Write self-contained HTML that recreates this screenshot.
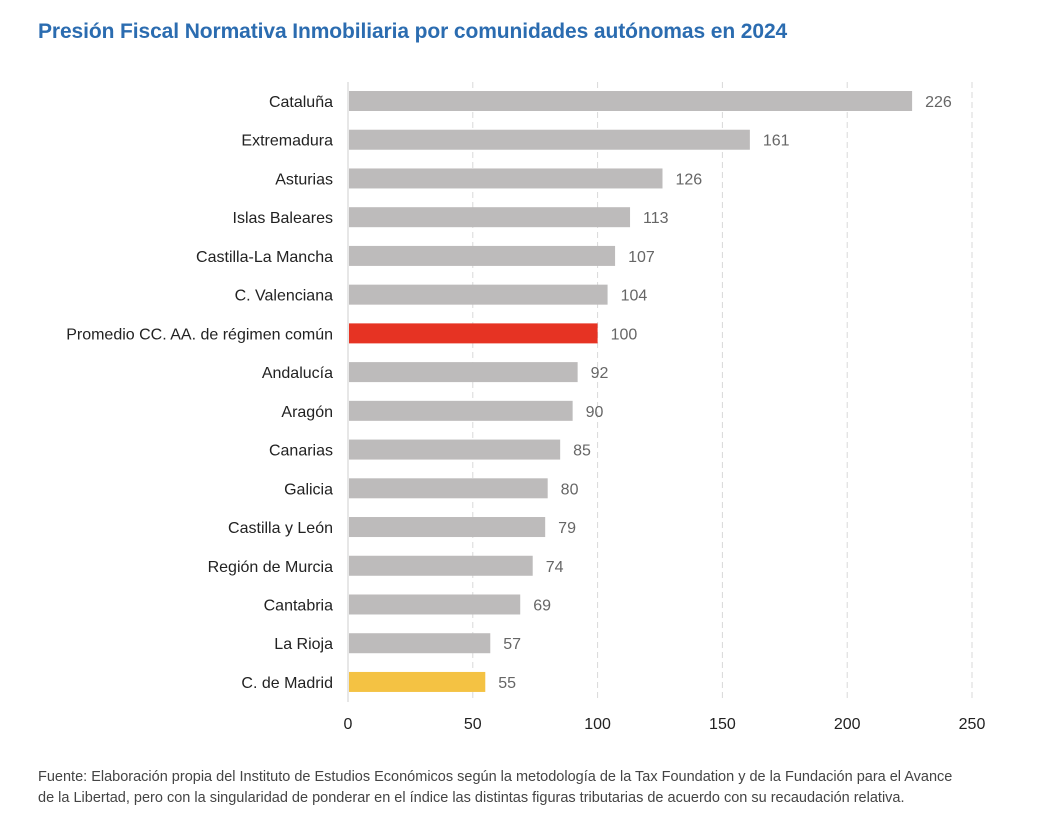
<!DOCTYPE html>
<html><head><meta charset="utf-8"><style>
body{margin:0;background:#fff;width:1041px;height:839px;overflow:hidden;font-family:"Liberation Sans","DejaVu Sans",sans-serif;}
#title{position:absolute;left:38px;top:20px;font-size:21px;font-weight:bold;color:#2b6cb0;letter-spacing:-0.1px;}
#note{position:absolute;left:38px;top:767px;font-size:14.5px;color:#444;line-height:21px;width:960px;}
svg{position:absolute;left:0;top:0;}
</style></head><body>
<div id="title">Presión Fiscal Normativa Inmobiliaria por comunidades autónomas en 2024</div>
<svg id="chart" width="1041" height="839"></svg>
<div id="note">Fuente: Elaboración propia del Instituto de Estudios Económicos según la metodología de la Tax Foundation y de la Fundación para el Avance<br>de la Libertad, pero con la singularidad de ponderar en el índice las distintas figuras tributarias de acuerdo con su recaudación relativa.</div>
<script>
const categories=["Cataluña","Extremadura","Asturias","Islas Baleares","Castilla-La Mancha","C. Valenciana","Promedio CC. AA. de régimen común","Andalucía","Aragón","Canarias","Galicia","Castilla y León","Región de Murcia","Cantabria","La Rioja","C. de Madrid"];
const values=[226,161,126,113,107,104,100,92,90,85,80,79,74,69,57,55];
const ticks=[0,50,100,150,200,250];
const NS="http://www.w3.org/2000/svg";
const svg=document.getElementById('chart');
const x0=348,pxPer=2.496,y0=101,step=38.73,bh=20;
const xs=v=>x0+v*pxPer;
const ys=i=>y0+i*step;
function mk(t,a){const e=document.createElementNS(NS,t);for(const k in a)e.setAttribute(k,a[k]);svg.appendChild(e);return e;}
ticks.forEach(t=>{
  const l=mk('line',{x1:xs(t),x2:xs(t),y1:82,y2:702,stroke:t===0?'#cfcfcf':'#d9d9d9','stroke-width':1,'stroke-dasharray':t===0?'':'6,4'});
  
  
  const tx=mk('text',{x:xs(t),y:729,'text-anchor':'middle','font-size':16,fill:'#222'});
  tx.textContent=t;
  
  
});
categories.forEach((c,i)=>{
  const y=ys(i);
  const col=c.startsWith('Promedio')?'#e63323':(c==='C. de Madrid'?'#f4c243':'#bdbbbb');
  const r=mk('rect',{x:x0+1,y:y-bh/2,width:xs(values[i])-x0-1,height:bh,fill:col});
  
  
  const lb=mk('text',{x:333,y:y+6,'text-anchor':'end','font-size':16,fill:'#222'});
  lb.textContent=c;
  
  
  const v=mk('text',{x:xs(values[i])+13,y:y+6,'font-size':16,fill:'#666'});
  v.textContent=values[i];
  
  
});
</script>
</body></html>
